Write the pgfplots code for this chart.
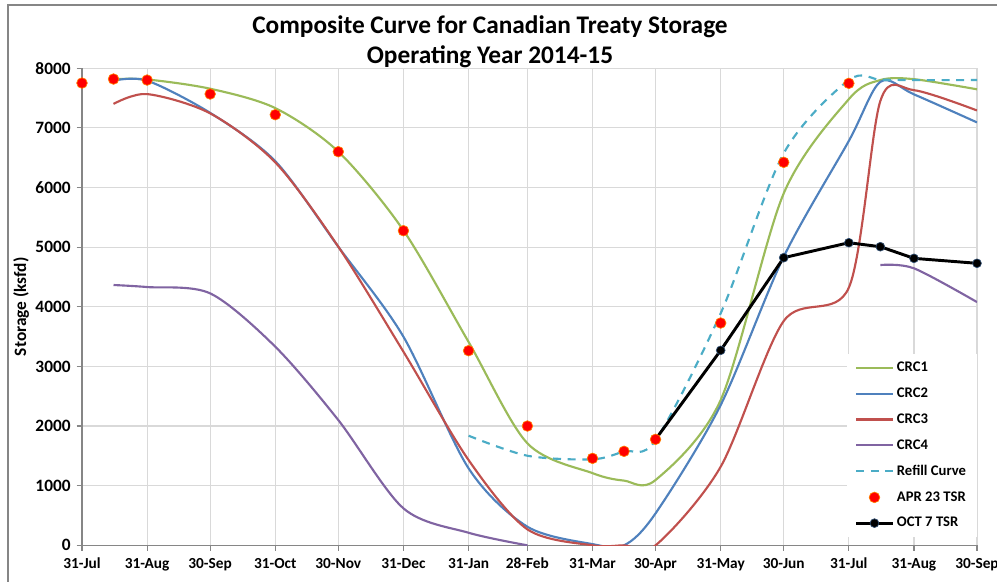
\documentclass[border=0pt]{standalone}
\usepackage{fontspec}
\setmainfont{Carlito}
\usepackage{pgfplots}
\pgfplotsset{compat=1.18}
\definecolor{crcA}{HTML}{9BBB59}
\definecolor{crcB}{HTML}{4F81BD}
\definecolor{crcC}{HTML}{C0504D}
\definecolor{crcD}{HTML}{8064A2}
\definecolor{refill}{HTML}{4BACC6}
\definecolor{gridc}{HTML}{D9D9D9}
\definecolor{axisc}{HTML}{868686}
\begin{document}
\begin{tikzpicture}
\useasboundingbox (0,0) rectangle (747.75pt,436.5pt);
\draw[color=axisc, line width=0.8pt] (6pt,0pt) -- (6pt,432.75pt) -- (747.75pt,432.75pt);
\node[anchor=base, font=\fontsize{19}{22}\selectfont\bfseries] at (367.5pt,411.5pt) {Composite Curve for Canadian Treaty Storage};
\node[anchor=base, font=\fontsize{19}{22}\selectfont\bfseries] at (367.5pt,389.0pt) {Operating Year 2014-15};
\begin{axis}[
  at={(61.5pt,27.5pt)}, anchor=south west,
  scale only axis, width=671.25pt, height=357.9pt,
  xmin=0, xmax=426, ymin=0, ymax=8000,
  axis lines*=left,
  axis line style={color=axisc, line width=0.8pt},
  tick align=outside, major tick length=4pt,
  tick style={color=axisc, line width=0.8pt},
  xtick={0,31,61,92,122,153,184,212,243,273,304,334,365,396,426},
  xticklabels={31-Jul,31-Aug,30-Sep,31-Oct,30-Nov,31-Dec,31-Jan,28-Feb,31-Mar,30-Apr,31-May,30-Jun,31-Jul,31-Aug,30-Sep},
  ytick={0,1000,2000,3000,4000,5000,6000,7000,8000},
  /pgf/number format/assume math mode=true,
  /pgf/number format/1000 sep={},
  xticklabel style={font=\fontsize{11.5}{13}\selectfont\bfseries, yshift=-2pt},
  yticklabel style={font=\fontsize{13}{15}\selectfont\bfseries, xshift=-1pt},
  ylabel={Storage (ksfd)},
  ylabel style={font=\fontsize{13}{15}\selectfont\bfseries, at={(axis description cs:-0.068,0.5)}, anchor=center},
  grid=major,
  major grid style={color=gridc, line width=0.8pt},
  clip mode=individual,
  legend style={at={(1,0.017)}, anchor=south east, draw=none, fill=white,
    font=\fontsize{11}{13}\selectfont\bfseries, row sep=6.6pt,
    inner xsep=6pt, inner ysep=4pt},
  legend cell align=left,
  legend image code/.code={\draw[mark repeat=2,mark phase=2,#1] plot coordinates {(0pt,0pt) (13.75pt,0pt) (27.5pt,0pt)};},
]
\addplot[crcA, line width=1.6pt, smooth] coordinates {
(15,7815) (31,7810) (61,7655) (92,7330) (122,6600) (153,5280) (184,3410) (212,1710)
(243,1210) (258,1085) (273,1095) (304,2436) (334,5900) (365,7480) (380,7800) (396,7815) (426,7645)};
\addlegendentry{CRC1}
\addplot[crcB, line width=1.6pt, smooth] coordinates {
(15,7790) (31,7790) (61,7250) (92,6440) (122,5006) (153,3497) (184,1291) (212,312)
(243,20) (258,0) (273,536) (304,2352) (334,4838) (365,6780) (380,7770) (396,7560) (426,7090)};
\addlegendentry{CRC2}
\addplot[crcC, line width=1.6pt, smooth] coordinates {
(15,7400) (31,7565) (61,7242) (92,6420) (122,5006) (153,3246) (184,1430) (212,268)
(243,0) (258,0) (273,0) (304,1318) (334,3760) (365,4320) (380,7450) (396,7630) (426,7290)};
\addlegendentry{CRC3}
\addplot[crcD, line width=1.6pt, smooth] coordinates {
(15,4364) (31,4330) (61,4224) (92,3330) (122,2100) (153,620) (184,211) (212,0)};
\addlegendentry{CRC4}
\addplot[crcD, line width=1.6pt, smooth, forget plot] coordinates {
(380,4699) (396,4644) (426,4078)};
\addplot[refill, line width=1.6pt, smooth, dash pattern=on 6pt off 5pt] coordinates {
(184,1838) (212,1502) (243,1442) (258,1576) (273,1760) (304,3889) (334,6572) (365,7800)
(380,7805) (396,7800) (426,7800)};
\addlegendentry{Refill Curve}
\addplot[black, line width=2.2pt, mark=*, mark size=3.3pt, mark options={fill=black, draw=crcB!60!black, line width=0.5pt}, forget plot] coordinates {
(273,1777) (304,3269) (334,4822) (365,5073) (380,5006) (396,4811) (426,4728)};
\addplot[only marks, mark=*, mark size=4pt, mark options={fill=red, draw=orange, line width=0.5pt}] coordinates {
(0,7750) (15,7817) (31,7800) (61,7566) (92,7219) (122,6599) (153,5274) (184,3263)
(212,2000) (243,1458) (258,1576) (273,1777) (304,3727) (334,6421) (365,7745)};
\addlegendentry{APR 23 TSR}
\addlegendimage{black, line width=2.2pt, mark=*, mark size=3.3pt, mark options={fill=black, draw=crcB!60!black, line width=0.5pt}}
\addlegendentry{OCT 7 TSR}
\end{axis}
\end{tikzpicture}
\end{document}
